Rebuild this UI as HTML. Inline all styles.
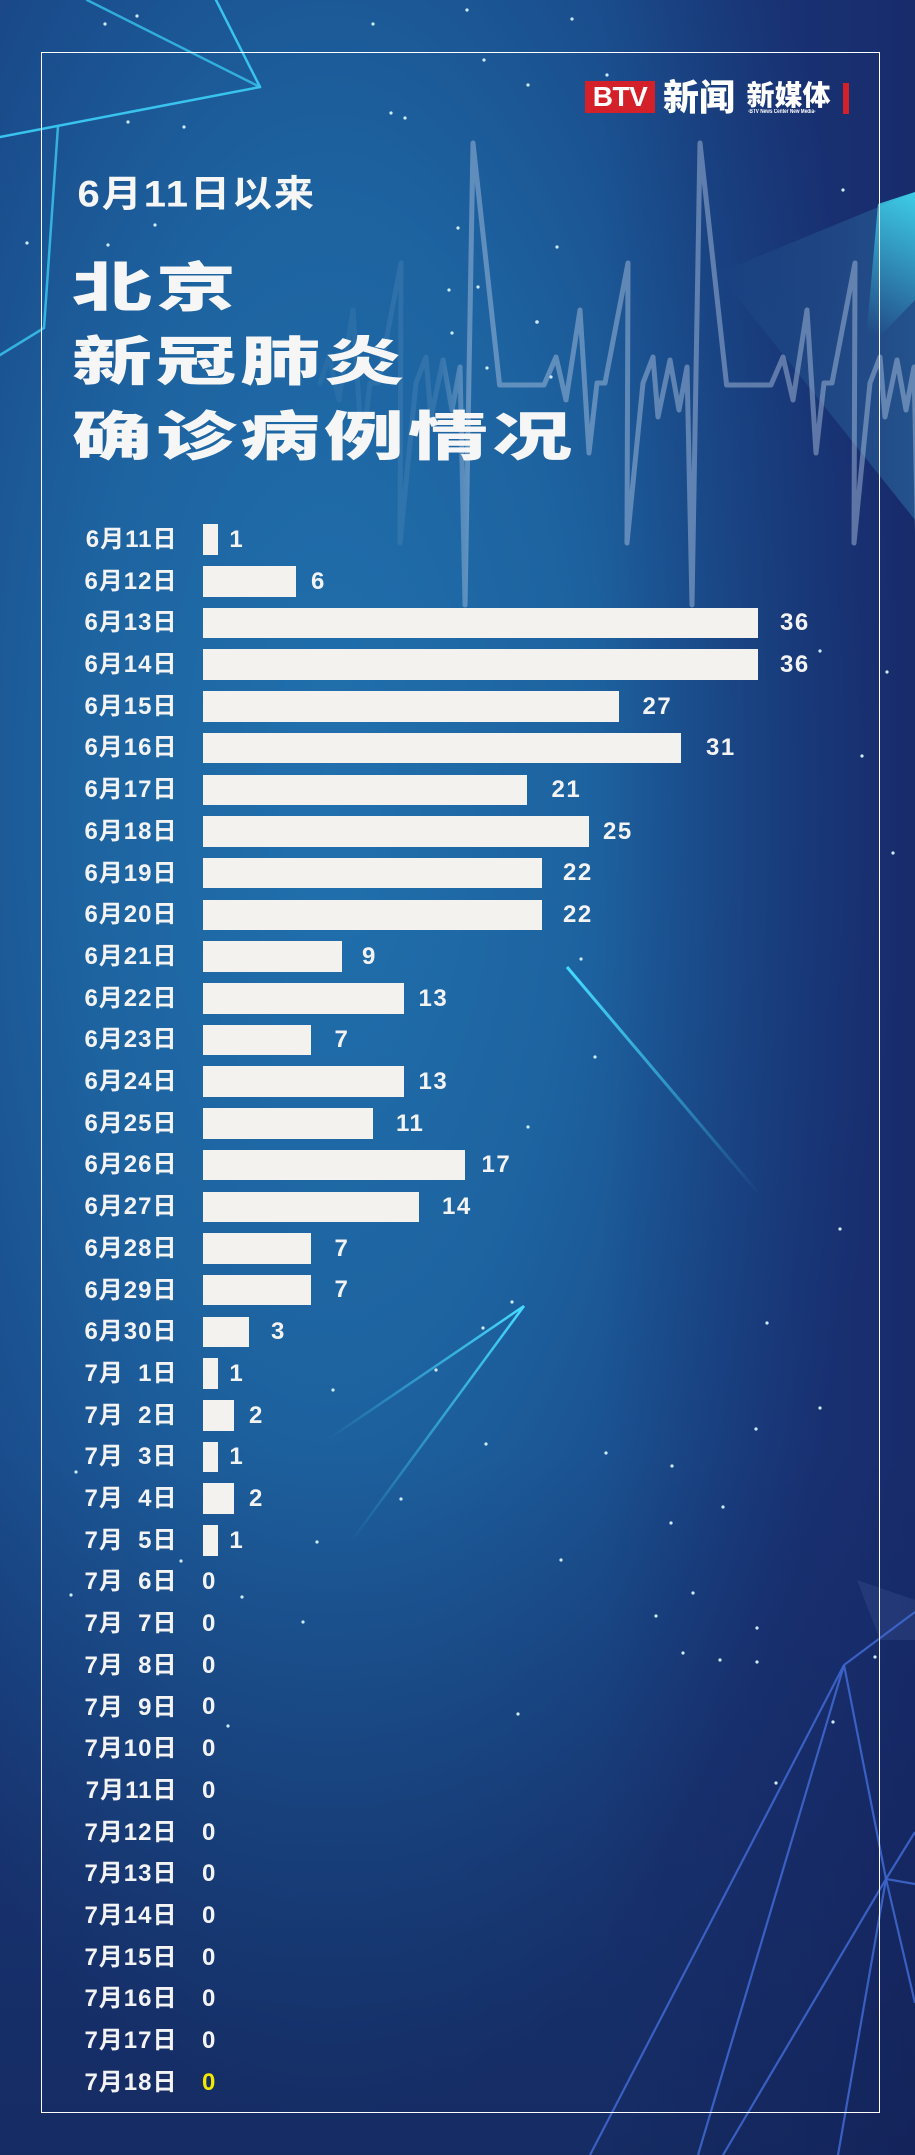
<!DOCTYPE html>
<html><head><meta charset="utf-8">
<style>
html,body{margin:0;padding:0;}
body{width:915px;height:2155px;position:relative;overflow:hidden;background:#1b5590;font-family:"Liberation Sans","Noto Sans CJK SC",sans-serif;}
svg.bg{position:absolute;left:0;top:0;}
.frame{position:absolute;left:41px;top:52px;width:839px;height:2061px;border:1px solid #fff;box-sizing:border-box;}
.big{position:absolute;left:72px;font-family:"Noto Sans CJK SC",sans-serif;font-weight:900;font-size:80px;letter-spacing:4px;line-height:1;transform:scaleY(0.66);transform-origin:0 0;color:#f6f6f6;white-space:nowrap;}
.sub{position:absolute;left:77.5px;top:176.4px;font-weight:bold;font-size:40px;letter-spacing:2px;line-height:1;transform:scaleY(0.92);transform-origin:0 0;color:#f6f6f6;white-space:nowrap;}
.r{position:absolute;left:0;width:915px;height:30.5px;}
.lab{position:absolute;right:737.5px;top:3.7px;font-weight:bold;font-size:24px;letter-spacing:1px;line-height:1;color:#f3f3f3;white-space:nowrap;}
.fs{display:inline-block;width:14.3px;}
.bar{position:absolute;left:203px;top:0;height:30.5px;background:#f4f2ee;}
.val{position:absolute;top:3.6px;font-weight:bold;font-size:24px;letter-spacing:1.5px;line-height:1;color:#f3f3f3;white-space:nowrap;}
.logo-box{position:absolute;left:585px;top:81px;width:70px;height:32px;background:#d42028;color:#fff;font-weight:bold;font-size:28px;line-height:32px;text-align:center;letter-spacing:-0.5px;}
.xw{position:absolute;font-family:"Noto Sans CJK SC",sans-serif;font-weight:900;line-height:1;color:#fff;white-space:nowrap;}
</style></head>
<body>
<svg class="bg" width="915" height="2155" viewBox="0 0 915 2155" xmlns="http://www.w3.org/2000/svg">
<defs>
<radialGradient id="g1" cx="0.36" cy="0.37" r="0.62">
<stop offset="0" stop-color="#2070ad"/>
<stop offset="0.45" stop-color="#1d63a0"/>
<stop offset="0.8" stop-color="#1a4a8a"/>
<stop offset="1" stop-color="#1a3a7c"/>
</radialGradient>
<linearGradient id="gr" x1="600" y1="0" x2="915" y2="0" gradientUnits="userSpaceOnUse">
<stop offset="0" stop-color="#16205f" stop-opacity="0"/>
<stop offset="1" stop-color="#16205f" stop-opacity="0.55"/>
</linearGradient>
<linearGradient id="gb" x1="0" y1="1450" x2="0" y2="2155" gradientUnits="userSpaceOnUse">
<stop offset="0" stop-color="#0f1a45" stop-opacity="0"/>
<stop offset="1" stop-color="#0f1a45" stop-opacity="0.45"/>
</linearGradient>
<linearGradient id="gw" x1="718" y1="0" x2="915" y2="0" gradientUnits="userSpaceOnUse">
<stop offset="0" stop-color="#3a9ac8" stop-opacity="0.0"/>
<stop offset="1" stop-color="#3a9ac8" stop-opacity="0.35"/>
</linearGradient>
<linearGradient id="gc" x1="915" y1="195" x2="862" y2="330" gradientUnits="userSpaceOnUse">
<stop offset="0" stop-color="#40d8ee" stop-opacity="0.9"/>
<stop offset="1" stop-color="#40d8ee" stop-opacity="0"/>
</linearGradient>
<linearGradient id="ge" x1="320" y1="0" x2="915" y2="0" gradientUnits="userSpaceOnUse">
<stop offset="0" stop-color="#b4c8e4" stop-opacity="0.06"/>
<stop offset="0.2" stop-color="#b4c8e4" stop-opacity="0.14"/>
<stop offset="0.25" stop-color="#b4c8e4" stop-opacity="0.45"/>
<stop offset="1" stop-color="#b4c8e4" stop-opacity="0.45"/>
</linearGradient>
<linearGradient id="gm1" x1="567" y1="967" x2="760" y2="1195" gradientUnits="userSpaceOnUse">
<stop offset="0" stop-color="#45dcff" stop-opacity="1"/>
<stop offset="1" stop-color="#45dcff" stop-opacity="0"/>
</linearGradient>
<linearGradient id="gva" x1="524" y1="1306" x2="327" y2="1440" gradientUnits="userSpaceOnUse">
<stop offset="0" stop-color="#45dcff" stop-opacity="1"/>
<stop offset="1" stop-color="#45dcff" stop-opacity="0"/>
</linearGradient>
<linearGradient id="gvb" x1="524" y1="1306" x2="350" y2="1543" gradientUnits="userSpaceOnUse">
<stop offset="0" stop-color="#45dcff" stop-opacity="1"/>
<stop offset="1" stop-color="#45dcff" stop-opacity="0"/>
</linearGradient>
</defs>
<rect width="915" height="2155" fill="url(#g1)"/>
<rect width="915" height="2155" fill="url(#gr)"/>
<rect width="915" height="2155" fill="url(#gb)"/>
<!-- subtle lighter wedge -->
<polygon points="718,273 915,192 915,520" fill="url(#gw)"/>
<!-- bright cyan corner -->
<polygon points="878,204 915,192 915,300 865,352" fill="url(#gc)"/>
<!-- ECG -->
<polyline fill="none" stroke="url(#ge)" stroke-width="5" stroke-linejoin="round" stroke-linecap="round"
points="320,383 329,357 339,400 353,310 362,453 370,383 378,383 401,263 400,543 416,383 426,357 431,417 443,360 452,410 460,367 465,605 473,143 499.6,385 544,385 556,357 566,400 580,310 589,453 597,383 605,383 628,263 627,543 643,383 653,357 658,417 670,360 679,410 687,367 692,605 700,143 726.6,385 771,385 783,357 793,400 807,310 816,453 824,383 832,383 855,263 854,543 870,383 880,357 885,417 897,360 906,410 914,367 919,605"/>
<!-- top-left cyan lines -->
<g stroke="#38c4ee" stroke-width="2.5" fill="none" stroke-linecap="round">
<line x1="0" y1="137" x2="260" y2="87"/>
<line x1="87" y1="0" x2="260" y2="87" stroke-opacity="0.8"/>
<line x1="216" y1="0" x2="260" y2="87"/>
<polyline points="58,126 44,328 0,355" stroke-opacity="0.85"/>
</g>
<!-- middle cyan lines -->
<line x1="567" y1="967" x2="760" y2="1195" stroke="url(#gm1)" stroke-width="3"/>
<line x1="524" y1="1306" x2="327" y2="1440" stroke="url(#gva)" stroke-width="2.5"/>
<line x1="524" y1="1306" x2="350" y2="1543" stroke="url(#gvb)" stroke-width="2.5"/>
<!-- faint lighter triangle bottom right -->
<polygon points="857,1580 915,1600 915,1640 880,1640" fill="#6a86c0" opacity="0.15"/>
<!-- network lines -->
<g stroke="#3d66cc" stroke-width="2.2" fill="none" stroke-opacity="0.9">
<line x1="844" y1="1665" x2="915" y2="1612"/>
<line x1="844" y1="1665" x2="590" y2="2155"/>
<line x1="844" y1="1665" x2="698" y2="2155"/>
<line x1="844" y1="1665" x2="886" y2="1879"/>
<line x1="886" y1="1879" x2="915" y2="1832"/>
<line x1="886" y1="1879" x2="915" y2="1884"/>
<line x1="886" y1="1879" x2="723" y2="2155"/>
<line x1="886" y1="1879" x2="838" y2="2155"/>
<line x1="886" y1="1879" x2="915" y2="2003"/>
</g>
<!-- stars -->
<g fill="#cdeaff">
<circle cx="137" cy="16" r="1.6"/><circle cx="105" cy="24" r="1.6"/><circle cx="373" cy="24" r="1.6"/><circle cx="467" cy="10" r="1.6"/><circle cx="572" cy="19" r="1.6"/><circle cx="484" cy="60" r="1.6"/><circle cx="607" cy="75" r="1.6"/><circle cx="528" cy="85" r="1.6"/><circle cx="391" cy="113" r="1.6"/><circle cx="405" cy="118" r="1.6"/><circle cx="128" cy="122" r="1.6"/><circle cx="184" cy="127" r="1.6"/><circle cx="843" cy="190" r="1.6"/><circle cx="155" cy="225" r="1.6"/><circle cx="458" cy="228" r="1.6"/><circle cx="27" cy="243" r="1.6"/><circle cx="108" cy="245" r="1.6"/><circle cx="557" cy="247" r="1.6"/><circle cx="449" cy="290" r="1.6"/><circle cx="478" cy="287" r="1.6"/><circle cx="537" cy="322" r="1.8"/><circle cx="452" cy="333" r="1.6"/><circle cx="487" cy="368" r="1.6"/><circle cx="551" cy="377" r="1.6"/>
<circle cx="820" cy="651" r="1.6"/><circle cx="887" cy="672" r="1.6"/><circle cx="862" cy="756" r="1.6"/><circle cx="893" cy="853" r="1.6"/><circle cx="581" cy="959" r="1.6"/>
<circle cx="595" cy="1057" r="1.6"/><circle cx="528" cy="1127" r="1.6"/><circle cx="840" cy="1229" r="1.6"/><circle cx="512" cy="1302" r="1.6"/><circle cx="483" cy="1328" r="1.6"/><circle cx="767" cy="1323" r="1.6"/><circle cx="436" cy="1370" r="1.6"/><circle cx="333" cy="1390" r="1.6"/><circle cx="820" cy="1408" r="1.6"/><circle cx="756" cy="1429" r="1.6"/><circle cx="486" cy="1444" r="1.6"/><circle cx="606" cy="1453" r="1.6"/><circle cx="672" cy="1466" r="1.6"/><circle cx="76" cy="1472" r="1.6"/><circle cx="401" cy="1499" r="1.6"/><circle cx="723" cy="1507" r="1.6"/><circle cx="671" cy="1523" r="1.6"/><circle cx="317" cy="1542" r="1.6"/><circle cx="561" cy="1560" r="1.6"/><circle cx="181" cy="1561" r="1.6"/><circle cx="71" cy="1595" r="1.6"/><circle cx="242" cy="1597" r="1.6"/><circle cx="693" cy="1593" r="1.6"/>
<circle cx="303" cy="1622" r="1.6"/><circle cx="656" cy="1616" r="1.6"/><circle cx="757" cy="1628" r="1.6"/><circle cx="683" cy="1653" r="1.6"/><circle cx="720" cy="1660" r="1.6"/><circle cx="757" cy="1662" r="1.6"/><circle cx="875" cy="1657" r="1.6"/><circle cx="518" cy="1714" r="1.6"/><circle cx="228" cy="1726" r="1.6"/><circle cx="833" cy="1722" r="1.6"/><circle cx="776" cy="1783" r="1.6"/>
</g>
</svg>

<div class="frame"></div>

<!-- logo -->
<div class="logo-box">BTV</div>
<div class="xw" style="left:663px;top:76.8px;font-size:36px;">新闻</div>
<div class="xw" style="left:746.5px;top:79.8px;font-size:28px;">新媒体</div>
<div style="position:absolute;left:748px;top:109px;font-size:6px;font-weight:bold;color:#fff;white-space:nowrap;line-height:1;transform:scaleX(0.78);transform-origin:0 0;">-BTV News Center New Media-</div>
<div style="position:absolute;left:843px;top:83px;width:6px;height:31px;background:#d42028;"></div>

<!-- titles -->
<div class="sub">6月11日以来</div>
<div class="big" style="top:257px;">北京</div>
<div class="big" style="top:331px;">新冠肺炎</div>
<div class="big" style="top:406px;">确诊病例情况</div>

<!-- rows -->
<div class="r" style="top:524.3px"><div class="lab">6月11日</div><div class="bar" style="width:15.4px"></div><div class="val" style="left:229.4px">1</div></div>
<div class="r" style="top:566.0px"><div class="lab">6月12日</div><div class="bar" style="width:92.5px"></div><div class="val" style="left:311px">6</div></div>
<div class="r" style="top:607.7px"><div class="lab">6月13日</div><div class="bar" style="width:555px"></div><div class="val" style="left:780px">36</div></div>
<div class="r" style="top:649.4px"><div class="lab">6月14日</div><div class="bar" style="width:555px"></div><div class="val" style="left:780px">36</div></div>
<div class="r" style="top:691.1px"><div class="lab">6月15日</div><div class="bar" style="width:416.3px"></div><div class="val" style="left:642.5px">27</div></div>
<div class="r" style="top:732.8px"><div class="lab">6月16日</div><div class="bar" style="width:478px"></div><div class="val" style="left:706px">31</div></div>
<div class="r" style="top:774.5px"><div class="lab">6月17日</div><div class="bar" style="width:323.8px"></div><div class="val" style="left:551.5px">21</div></div>
<div class="r" style="top:816.2px"><div class="lab">6月18日</div><div class="bar" style="width:385.5px"></div><div class="val" style="left:603px">25</div></div>
<div class="r" style="top:857.9px"><div class="lab">6月19日</div><div class="bar" style="width:339.2px"></div><div class="val" style="left:563px">22</div></div>
<div class="r" style="top:899.6px"><div class="lab">6月20日</div><div class="bar" style="width:339.2px"></div><div class="val" style="left:563px">22</div></div>
<div class="r" style="top:941.3px"><div class="lab">6月21日</div><div class="bar" style="width:138.8px"></div><div class="val" style="left:362px">9</div></div>
<div class="r" style="top:983.0px"><div class="lab">6月22日</div><div class="bar" style="width:200.5px"></div><div class="val" style="left:418.5px">13</div></div>
<div class="r" style="top:1024.7px"><div class="lab">6月23日</div><div class="bar" style="width:107.9px"></div><div class="val" style="left:334.5px">7</div></div>
<div class="r" style="top:1066.4px"><div class="lab">6月24日</div><div class="bar" style="width:200.5px"></div><div class="val" style="left:418.5px">13</div></div>
<div class="r" style="top:1108.1px"><div class="lab">6月25日</div><div class="bar" style="width:169.6px"></div><div class="val" style="left:396px">11</div></div>
<div class="r" style="top:1149.8px"><div class="lab">6月26日</div><div class="bar" style="width:262.1px"></div><div class="val" style="left:481.5px">17</div></div>
<div class="r" style="top:1191.5px"><div class="lab">6月27日</div><div class="bar" style="width:215.9px"></div><div class="val" style="left:442px">14</div></div>
<div class="r" style="top:1233.2px"><div class="lab">6月28日</div><div class="bar" style="width:107.9px"></div><div class="val" style="left:334.5px">7</div></div>
<div class="r" style="top:1274.9px"><div class="lab">6月29日</div><div class="bar" style="width:107.9px"></div><div class="val" style="left:334.5px">7</div></div>
<div class="r" style="top:1316.6px"><div class="lab">6月30日</div><div class="bar" style="width:46.3px"></div><div class="val" style="left:271px">3</div></div>
<div class="r" style="top:1358.3px"><div class="lab">7月<span class="fs"></span>1日</div><div class="bar" style="width:15.4px"></div><div class="val" style="left:229.4px">1</div></div>
<div class="r" style="top:1400.0px"><div class="lab">7月<span class="fs"></span>2日</div><div class="bar" style="width:30.8px"></div><div class="val" style="left:249px">2</div></div>
<div class="r" style="top:1441.7px"><div class="lab">7月<span class="fs"></span>3日</div><div class="bar" style="width:15.4px"></div><div class="val" style="left:229.4px">1</div></div>
<div class="r" style="top:1483.4px"><div class="lab">7月<span class="fs"></span>4日</div><div class="bar" style="width:30.8px"></div><div class="val" style="left:249px">2</div></div>
<div class="r" style="top:1525.1px"><div class="lab">7月<span class="fs"></span>5日</div><div class="bar" style="width:15.4px"></div><div class="val" style="left:229.4px">1</div></div>
<div class="r" style="top:1566.8px"><div class="lab">7月<span class="fs"></span>6日</div><div class="val" style="left:202px">0</div></div>
<div class="r" style="top:1608.5px"><div class="lab">7月<span class="fs"></span>7日</div><div class="val" style="left:202px">0</div></div>
<div class="r" style="top:1650.2px"><div class="lab">7月<span class="fs"></span>8日</div><div class="val" style="left:202px">0</div></div>
<div class="r" style="top:1691.9px"><div class="lab">7月<span class="fs"></span>9日</div><div class="val" style="left:202px">0</div></div>
<div class="r" style="top:1733.6px"><div class="lab">7月10日</div><div class="val" style="left:202px">0</div></div>
<div class="r" style="top:1775.3px"><div class="lab">7月11日</div><div class="val" style="left:202px">0</div></div>
<div class="r" style="top:1817.0px"><div class="lab">7月12日</div><div class="val" style="left:202px">0</div></div>
<div class="r" style="top:1858.7px"><div class="lab">7月13日</div><div class="val" style="left:202px">0</div></div>
<div class="r" style="top:1900.4px"><div class="lab">7月14日</div><div class="val" style="left:202px">0</div></div>
<div class="r" style="top:1942.1px"><div class="lab">7月15日</div><div class="val" style="left:202px">0</div></div>
<div class="r" style="top:1983.8px"><div class="lab">7月16日</div><div class="val" style="left:202px">0</div></div>
<div class="r" style="top:2025.5px"><div class="lab">7月17日</div><div class="val" style="left:202px">0</div></div>
<div class="r" style="top:2067.2px"><div class="lab">7月18日</div><div class="val" style="left:202px;color:#f2e800">0</div></div>
</body></html>
